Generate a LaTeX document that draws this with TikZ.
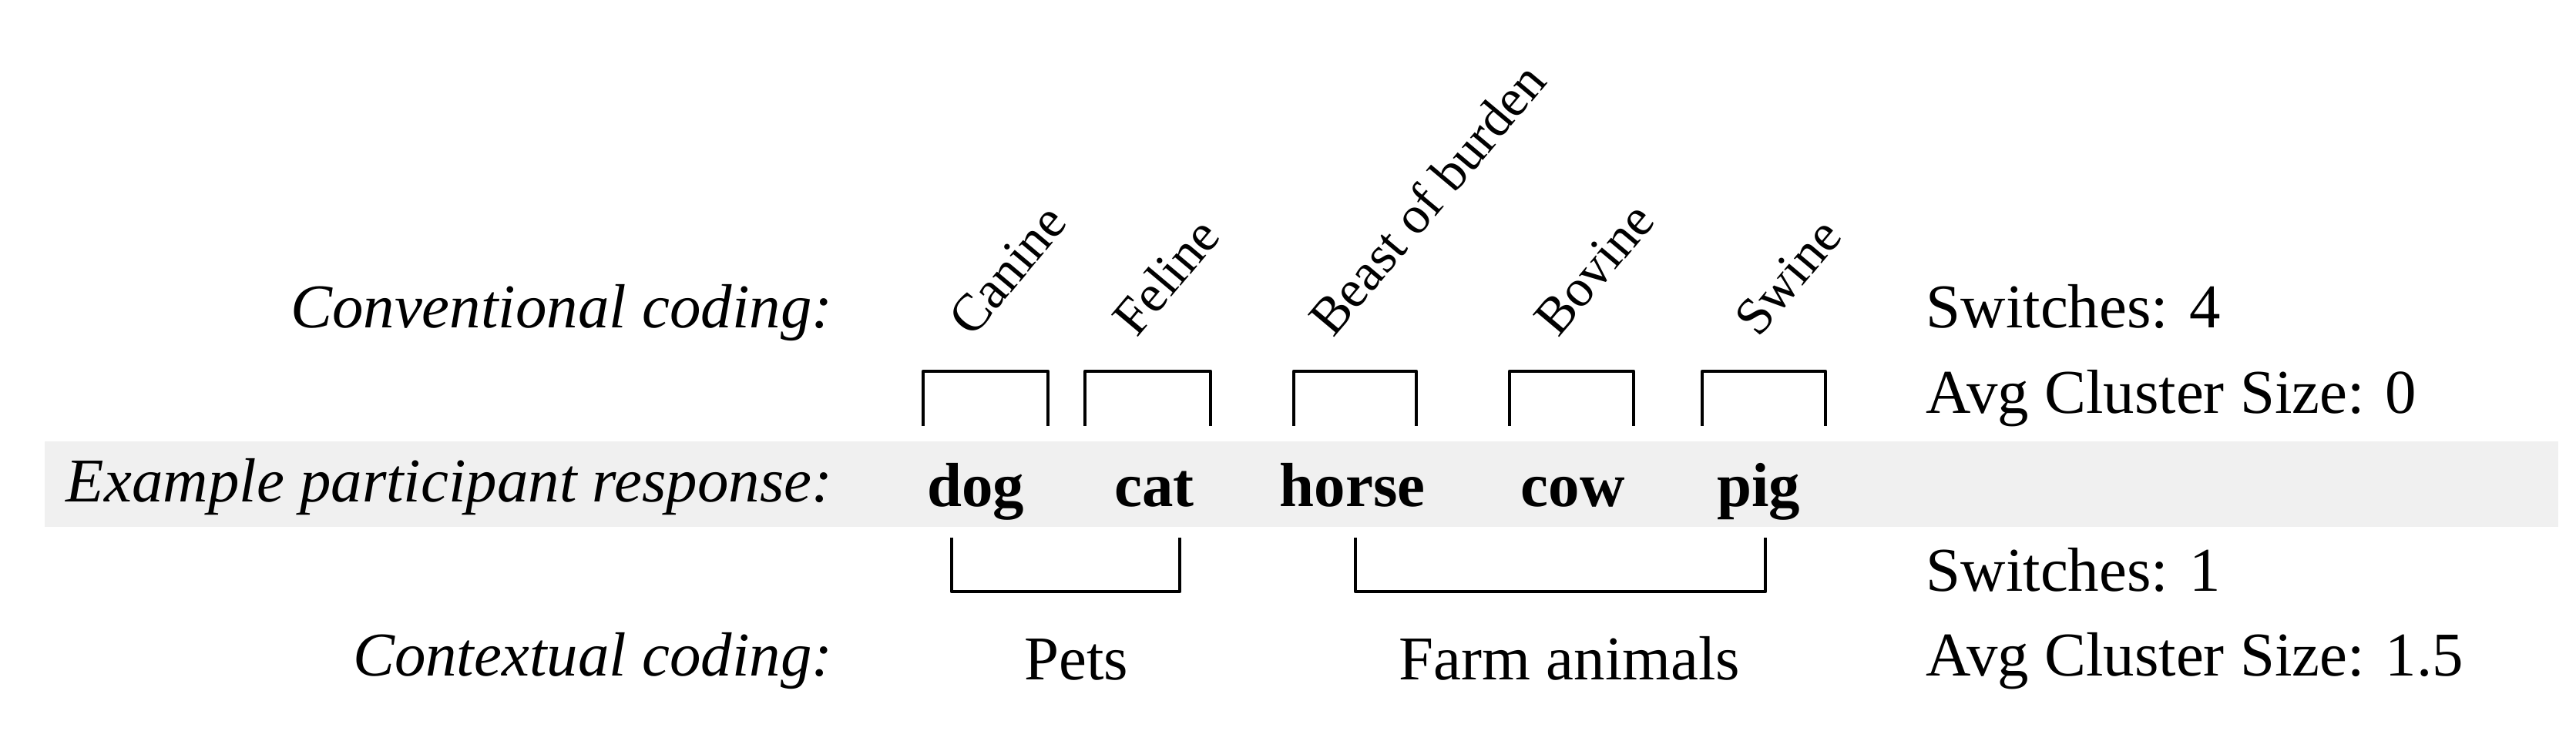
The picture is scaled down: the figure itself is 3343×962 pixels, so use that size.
\documentclass[tikz,border=0pt]{standalone}
\usepackage{fontspec}
\setmainfont{Liberation Serif}
\begin{document}
\begin{tikzpicture}[x=0.01cm,y=-0.01cm,
  lbl/.style={font=\fontsize{23}{27}\selectfont\itshape,anchor=base east,inner sep=0},
  rlbl/.style={font=\fontsize{23}{27}\selectfont,anchor=base west,inner sep=0},
  wrd/.style={font=\fontsize{23}{27}\selectfont\bfseries,anchor=base,inner sep=0},
  cat/.style={font=\fontsize{23}{27}\selectfont,anchor=base,inner sep=0},
  rot/.style={font=\fontsize{19.5}{23}\selectfont,anchor=base west,rotate=50,inner sep=0},
  brk/.style={line width=1.3pt,line join=round}]
\useasboundingbox (0,0) rectangle (3343,962);
\fill[black!6] (58,573) rectangle (3320,684);
\node[lbl] (l1) at (1081,426) {Conventional coding:};
\node[lbl] (l2) at (1081,652) {Example participant response:};
\node[lbl] (l3) at (1081,878) {Contextual coding:};
\node[rlbl] (r1) at (2499,426) {Switches: 4};
\node[rlbl] (r2) at (2499,537) {Avg Cluster Size: 0};
\node[rlbl] (r3) at (2499,768) {Switches: 1};
\node[rlbl] (r4) at (2499,878) {Avg Cluster Size: 1.5};
\node[wrd] (w1) at (1266,658) {dog};
\node[wrd] (w2) at (1498,658) {cat};
\node[wrd] (w3) at (1755,658) {horse};
\node[wrd] (w4) at (2041,658) {cow};
\node[wrd] (w5) at (2282,658) {pig};
\foreach \a/\b in {1198/1360,1408/1571,1679/1838,1959/2120,2209/2369}
  \draw[brk] (\a,553) -- (\a,482) -- (\b,482) -- (\b,553);
\draw[brk] (1235,698) -- (1235,768) -- (1531,768) -- (1531,698);
\draw[brk] (1759,698) -- (1759,768) -- (2291,768) -- (2291,698);
\node[cat] (p) at (1397,883) {Pets};
\node[cat] (f) at (2037,883) {Farm animals};
\node[rot] (c1) at (1262,440) {Canine};
\node[rot] (c2) at (1475,440) {Feline};
\node[rot] (c3) at (1730,440) {Beast of burden};
\node[rot] (c4) at (2022,440) {Bovine};
\node[rot] (c5) at (2282,440) {Swine};
\end{tikzpicture}
\end{document}
